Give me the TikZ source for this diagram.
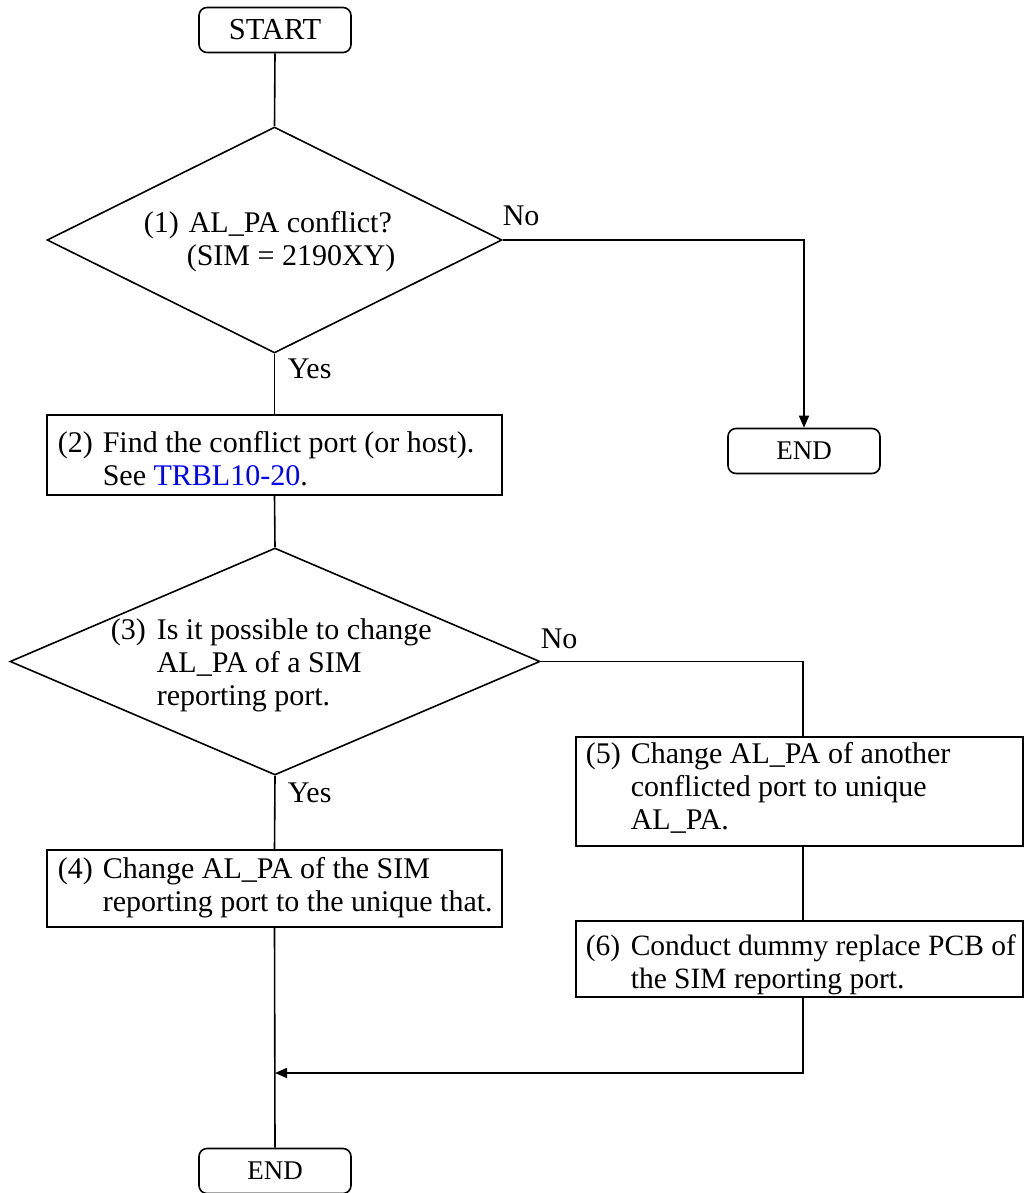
\documentclass[tikz,border=0pt]{standalone}
\usepackage{fontspec}
\setmainfont{Liberation Serif}
\usetikzlibrary{shapes.geometric,arrows.meta}
\newcommand\numlbl[2][45pt]{\makebox[#1][l]{#2}}
\begin{document}
\begin{tikzpicture}[x=1pt,y=-1pt,
  line width=1.6pt,
  term/.style={draw, rounded corners=8pt, minimum width=152pt, minimum height=45pt, inner sep=0pt},
  decision/.style={draw, diamond, inner sep=0pt},
  procbox/.style={draw, rectangle, inner sep=0pt},
  txt/.style={inner sep=0pt, anchor=base west, font=\fontsize{30}{33}\selectfont},
  lbl/.style={inner sep=0pt, anchor=base west, font=\fontsize{30}{33}\selectfont},
  arr/.style={-{Triangle[length=12pt,width=10pt]}}
]
\useasboundingbox (0,0) rectangle (1024,1193);

% shapes
\node[term, font=\fontsize{30.5}{33}\selectfont] (start) at (275,30) {START};
\node[decision, minimum width=455pt, minimum height=226pt] (d1) at (274.5,240) {};
\node[term, font=\fontsize{27}{30}\selectfont] (end1) at (804,451) {END};
\node[procbox, minimum width=455pt, minimum height=80pt] (b2) at (274.5,455) {};
\node[decision, minimum width=530pt, minimum height=227pt] (d3) at (275,661.5) {};
\node[procbox, minimum width=455pt, minimum height=77pt] (b4) at (274.5,888.5) {};
\node[procbox, minimum width=447pt, minimum height=109pt] (b5) at (799.5,791.5) {};
\node[procbox, minimum width=447pt, minimum height=76pt] (b6) at (799.5,959) {};
\node[term, font=\fontsize{27}{30}\selectfont] (end2) at (275,1171) {END};

% texts
\node[txt] (t1) at (143,232) {\begin{tabular}[t]{@{}l@{}}\numlbl{(1)}AL\_PA conflict?\\\numlbl[43pt]{}(SIM = 2190XY)\end{tabular}};
\node[txt] (t2) at (57,452) {\begin{tabular}[t]{@{}l@{}}\numlbl{(2)}Find the conflict port (or host).\\\numlbl{}See \textcolor[RGB]{0,0,255}{TRBL10-20}.\end{tabular}};
\node[txt] (t3) at (110,639) {\begin{tabular}[t]{@{}l@{}}\numlbl[46pt]{(3)}Is it possible to change\\\numlbl[46pt]{}AL\_PA of a SIM\\\numlbl[46pt]{}reporting port.\end{tabular}};
\node[txt] (t4) at (57,878) {\begin{tabular}[t]{@{}l@{}}\numlbl{(4)}Change AL\_PA of the SIM\\\numlbl{}reporting port to the unique that.\end{tabular}};
\node[txt] (t5) at (585,763) {\begin{tabular}[t]{@{}l@{}}\numlbl{(5)}Change AL\_PA of another\\\numlbl{}conflicted port to unique\\\numlbl{}AL\_PA.\end{tabular}};
\node[txt, font=\fontsize{29.5}{33}\selectfont] (t6) at (585,955) {\begin{tabular}[t]{@{}l@{}}\numlbl{(6)}Conduct dummy replace PCB of\\\numlbl{}the SIM reporting port.\end{tabular}};

% branch labels
\node[lbl] (no1) at (502,225) {No};
\node[lbl] (yes1) at (287,378) {Yes};
\node[lbl] (no2) at (540,648) {No};
\node[lbl] (yes2) at (287,802) {Yes};

% connector anchor points
\coordinate (b5top) at (803,737);
\coordinate (b5bot) at (803,846);
\coordinate (b6top) at (803,921);
\coordinate (b6bot) at (803,997);
\coordinate (merge) at (275,1073);

% connectors
\draw (start.south) -- (d1.north);
\draw[arr] (d1.east) -| (end1.north);
\draw (d1.south) -- (b2.north);
\draw (b2.south) -- (d3.north);
\draw (d3.east) -| (b5top);
\draw (b5bot) -- (b6top);
\draw[arr] (b6bot) |- (merge);
\draw (d3.south) -- (b4.north);
\draw (b4.south) -- (end2.north);
\end{tikzpicture}
\end{document}
